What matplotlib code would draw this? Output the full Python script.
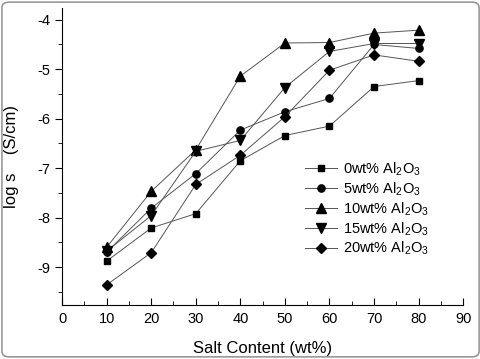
import matplotlib
matplotlib.use("Agg")
import matplotlib.pyplot as plt
from matplotlib.patches import FancyBboxPatch
from matplotlib.ticker import MultipleLocator

plt.rcParams['font.family'] = ['Liberation Sans', 'DejaVu Sans']
plt.rcParams['mathtext.fontset'] = 'custom'
plt.rcParams['mathtext.rm'] = 'Liberation Sans'
plt.rcParams['axes.unicode_minus'] = False

salt = [10, 20, 30, 40, 50, 60, 70, 80]
al0 = [-8.88, -8.21, -7.92, -6.85, -6.34, -6.15, -5.35, -5.23]
al5 = [-8.70, -7.81, -7.11, -6.23, -5.86, -5.59, -4.50, -4.58]
al10 = [-8.60, -7.47, -6.63, -5.14, -4.47, -4.46, -4.27, -4.21]
al15 = [-8.68, -7.96, -6.66, -6.44, -5.37, -4.64, -4.48, -4.48]
al20 = [-9.36, -8.71, -7.33, -6.74, -5.96, -5.02, -4.71, -4.84]

series = [al0, al5, al10, al15, al20]
labels = ['0wt% Al$_2$O$_3$', '5wt% Al$_2$O$_3$', '10wt% Al$_2$O$_3$',
          '15wt% Al$_2$O$_3$', '20wt% Al$_2$O$_3$']
markers = ['s', 'o', '^', 'v', 'D']
msizes = [4.2, 5.2, 6.5, 6.5, 5.2]

fig = plt.figure(figsize=(4.81, 3.59), dpi=100)
ax = fig.add_axes([0.129, 0.150, 0.834, 0.828])

for y, lab, m, ms in zip(series, labels, markers, msizes):
    ax.plot(salt, y, color='#555555', lw=0.7, marker=m, ms=ms,
            mfc='black', mec='black', label=lab)

ax.set_xlim(0, 90)
ax.set_ylim(-9.77, -3.76)
ax.xaxis.set_major_locator(MultipleLocator(10))
ax.xaxis.set_minor_locator(MultipleLocator(5))
ax.yaxis.set_major_locator(MultipleLocator(1))
ax.yaxis.set_minor_locator(MultipleLocator(0.5))
ax.tick_params(axis='x', which='both', direction='in', labelsize=10.5)
ax.tick_params(axis='x', which='major', length=5, pad=5)
ax.tick_params(axis='x', which='minor', length=3)
ax.tick_params(axis='y', which='both', direction='out', labelsize=10.5)
ax.tick_params(axis='y', which='major', length=5)
ax.tick_params(axis='y', which='minor', length=3)
ax.spines['top'].set_visible(False)
ax.spines['right'].set_visible(False)

ax.set_xlabel('Salt Content (wt%)', fontsize=12, labelpad=11)
ax.set_ylabel('log s    (S/cm)', fontsize=12, labelpad=13)

leg = ax.legend(loc='upper left', bbox_to_anchor=(0.5875, 0.512), frameon=False,
                fontsize=10.5, handlelength=2.2, handletextpad=0.4,
                labelspacing=0.15, borderpad=0)

border = FancyBboxPatch((0.004, 0.006), 0.992, 0.988,
                        boxstyle='round,pad=0,rounding_size=0.015',
                        transform=fig.transFigure, fill=False,
                        ec='#999999', lw=1.2)
fig.patches.append(border)

fig.savefig('out.png', dpi=100)
